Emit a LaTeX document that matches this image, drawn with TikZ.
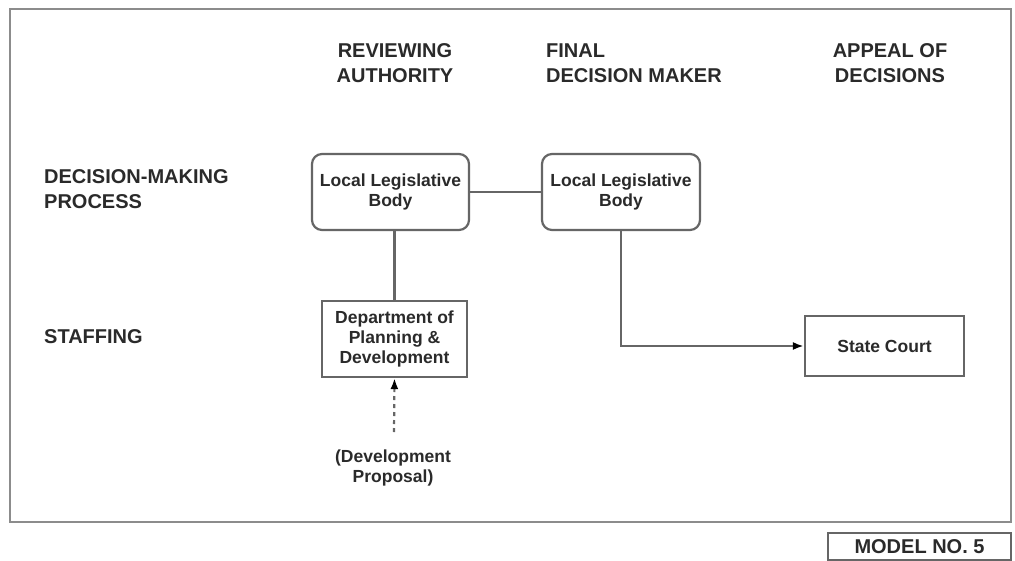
\documentclass[tikz,border=0pt]{standalone}
\usepackage{fontspec}
\setmainfont{Liberation Sans}
\usetikzlibrary{arrows.meta}
\definecolor{inkgray}{HTML}{2A2A2A}
\definecolor{linegray}{HTML}{666666}
\definecolor{framegray}{HTML}{8C8C8C}
\begin{document}
\begin{tikzpicture}[x=1pt,y=-1pt,
  heading/.style={inner sep=0pt, text=inkgray, font=\fontsize{20}{25}\selectfont\bfseries},
  boxtext/.style={text=inkgray, font=\fontsize{17.5}{20}\selectfont\bfseries, align=center},
  roundbox/.style={boxtext, draw=linegray, line width=2.2pt, rounded corners=10pt, minimum width=157pt, minimum height=76pt},
  squarebox/.style={boxtext, draw=linegray, line width=2.2pt, minimum width=145pt, minimum height=76pt},
  link/.style={draw=linegray, line width=2.2pt},
  arrowtip/.style={-{Latex[length=11pt,width=8pt,fill=black,color=black]}}
]
\useasboundingbox (0,0) rectangle (1015,560);
\fill[white] (0,0) rectangle (1015,560);

% outer frame
\draw[framegray, line width=2.4pt] (10,9) rectangle (1011,522);

% column headings
\node[heading, align=center] (hrev) at (395,63.5) {REVIEWING\\AUTHORITY};
\node[heading, align=left, anchor=west] (hfin) at (546,63.5) {FINAL\\DECISION MAKER};
\node[heading, align=center] (happ) at (890,63.5) {APPEAL OF\\DECISIONS};

% row headings
\node[heading, align=left, anchor=west] (rdec) at (44,189.5) {DECISION-MAKING\\PROCESS};
\node[heading, align=left, anchor=west] (rstaff) at (44,337) {STAFFING};

% boxes
\node[roundbox] (llb1) at (390.5,192) {Local Legislative\\Body};
\node[roundbox, minimum width=158pt] (llb2) at (621,192) {Local Legislative\\Body};
\node[squarebox] (dept) at (394.5,339) {Department of\\Planning \&\\Development};
\node[squarebox, minimum width=159pt, minimum height=60pt] (court) at (884.5,346) {State Court};

% proposal label
\node[boxtext, inner sep=0pt] (prop) at (393,468) {(Development\\Proposal)};
\coordinate (propTop) at (394,432);

% connectors
\draw[link] (llb1.east) -- (llb2.west);
\draw[link] (dept.north) -- (dept.north |- llb1.south);
\draw[link, arrowtip] (llb2.south) |- (court.west);
\draw[link, dash pattern=on 4pt off 4pt, arrowtip] (propTop) -- (dept.south);

% model number tag
\node[draw=linegray, line width=2.2pt, minimum width=183pt, minimum height=27pt, inner sep=0pt,
      text=inkgray, font=\fontsize{20}{24}\selectfont\bfseries] (model) at (919.5,546.5) {MODEL NO. 5};
\end{tikzpicture}
\end{document}
